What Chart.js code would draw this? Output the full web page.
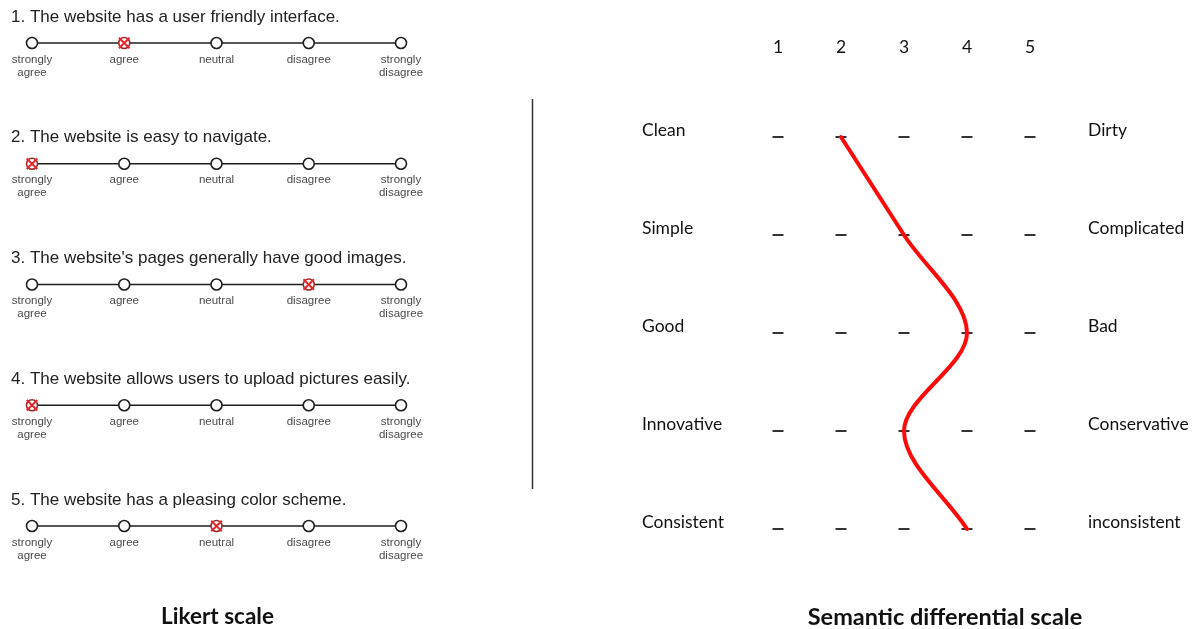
<!DOCTYPE html>
<html><head><meta charset="utf-8">
<script src="https://cdn.jsdelivr.net/npm/chart.js@4/dist/chart.umd.min.js"></script>
<style>
html,body{margin:0;padding:0;background:#fff;}
#wrap{position:relative;width:1198px;height:629px;overflow:hidden;}
#wrap canvas{position:absolute;left:0;top:0;}
</style></head><body>
<div id="wrap"><canvas id="likert" width="1198" height="629"></canvas><canvas id="semantic" width="1198" height="629"></canvas></div>
<script>
// ---- data ----
const likertOptions = [['strongly','agree'],['agree'],['neutral'],['disagree'],['strongly','disagree']];
const likertQuestions = [
  '1. The website has a user friendly interface.',
  '2. The website is easy to navigate.',
  "3. The website's pages generally have good images.",
  '4. The website allows users to upload pictures easily.',
  '5. The website has a pleasing color scheme.'
];
const likertAnswers = [2, 1, 4, 1, 3];

const semanticColumns = ['1', '2', '3', '4', '5'];
const semanticLeft = ['Clean', 'Simple', 'Good', 'Innovative', 'Consistent'];
const semanticRight = ['Dirty', 'Complicated', 'Bad', 'Conservative', 'inconsistent'];
const semanticRatings = [2, 3, 4, 3, 4];

const scaleTitles = ['Likert scale', 'Semantic differential scale'];

// ---- Likert chart ----
const likertDatasets = likertQuestions.map((q, i) => ({
  data: likertOptions.map((o, j) => ({x: j + 1, y: i + 1})),
  borderColor: '#1e1e1e', borderWidth: 1.5, tension: 0,
  pointRadius: 5.5, pointHoverRadius: 5.5,
  pointBackgroundColor: '#fff',
  pointBorderColor: likertOptions.map((o, j) => (j + 1 === likertAnswers[i] ? '#9a2a2a' : '#1e1e1e')),
  pointBorderWidth: 1.6, clip: false, order: 1
}));
likertDatasets.push({
  data: likertAnswers.map((a, i) => ({x: a, y: i + 1})),
  showLine: false, pointStyle: 'crossRot', pointRadius: 7.5, pointHoverRadius: 7.5,
  pointBorderColor: '#e8262c', pointBackgroundColor: '#e8262c', pointBorderWidth: 2, clip: false, order: -1
});

const likertText = {
  id: 'likertText',
  afterDraw(chart) {
    const {ctx, scales: {x, y}} = chart;
    ctx.save();
    ctx.textBaseline = 'middle';
    likertQuestions.forEach((q, i) => {
      const py = y.getPixelForValue(i + 1);
      ctx.font = '17px "Liberation Sans", Arial, sans-serif';
      ctx.fillStyle = '#222'; ctx.textAlign = 'left';
      ctx.fillText(q, x.left - 21, py - 26);
      ctx.font = '11.5px "Liberation Sans", Arial, sans-serif';
      ctx.fillStyle = '#4a4a4a'; ctx.textAlign = 'center';
      likertOptions.forEach((lines, j) => {
        const px = x.getPixelForValue(j + 1);
        lines.forEach((ln, k) => ctx.fillText(ln, px, py + 16.5 + k * 13));
      });
    });
    ctx.font = 'bold 22.5px Lato, "Open Sans", sans-serif';
    ctx.fillStyle = '#111'; ctx.textAlign = 'center';
    ctx.fillText(scaleTitles[0], x.getPixelForValue(3) + 1, 617);
    // divider
    ctx.strokeStyle = '#333'; ctx.lineWidth = 1.5;
    ctx.beginPath(); ctx.moveTo(532.5, 99); ctx.lineTo(532.5, 489); ctx.stroke();
    ctx.restore();
  }
};

new Chart(document.getElementById('likert'), {
  type: 'line',
  data: {datasets: likertDatasets},
  options: {
    responsive: false, animation: false, devicePixelRatio: 1,
    layout: {padding: {left: 32, right: 797, top: 43, bottom: 103}, autoPadding: false},
    plugins: {legend: {display: false}, tooltip: {enabled: false}},
    events: [],
    scales: {
      x: {type: 'linear', min: 1, max: 5, display: false},
      y: {type: 'linear', min: 1, max: 5, reverse: true, display: false}
    }
  },
  plugins: [likertText]
});

// ---- Semantic differential chart ----
const dashData = [];
semanticLeft.forEach((t, i) => semanticColumns.forEach((c, j) => dashData.push({x: j + 1, y: i + 1})));

const semanticText = {
  id: 'semanticText',
  afterDraw(chart) {
    const {ctx, scales: {x, y}} = chart;
    ctx.save();
    ctx.textBaseline = 'middle';
    ctx.fillStyle = '#111';
    ctx.font = '17.5px Lato, "Open Sans", sans-serif';
    ctx.textAlign = 'center';
    semanticColumns.forEach((c, j) => ctx.fillText(c, x.getPixelForValue(j + 1), 47));
    semanticLeft.forEach((t, i) => {
      const py = y.getPixelForValue(i + 1) - 7;
      ctx.textAlign = 'left';
      ctx.fillText(t, 642, py);
      ctx.fillText(semanticRight[i], 1088, py);
    });
    ctx.font = 'bold 23.5px Lato, "Open Sans", sans-serif';
    ctx.textAlign = 'center';
    ctx.fillText(scaleTitles[1], 945, 617);
    ctx.restore();
  }
};

new Chart(document.getElementById('semantic'), {
  type: 'line',
  data: {datasets: [
    {
      data: semanticRatings.map((r, i) => ({x: r, y: i + 1})),
      borderColor: '#ff0a0a', borderWidth: 4, cubicInterpolationMode: 'monotone', pointRadius: 0,
      borderCapStyle: 'round', clip: false, order: 0
    },
    {
      data: dashData, showLine: false, pointStyle: 'line', pointRadius: 5.5, pointHoverRadius: 5.5,
      pointBorderColor: '#333', pointBorderWidth: 2, clip: false, order: 1
    }
  ]},
  options: {
    indexAxis: 'y',
    responsive: false, animation: false, devicePixelRatio: 1,
    layout: {padding: {left: 778, right: 168, top: 137, bottom: 100}, autoPadding: false},
    plugins: {legend: {display: false}, tooltip: {enabled: false}},
    events: [],
    scales: {
      x: {type: 'linear', min: 1, max: 5, display: false},
      y: {type: 'linear', min: 1, max: 5, reverse: true, display: false}
    }
  },
  plugins: [semanticText]
});
</script>
</body></html>
